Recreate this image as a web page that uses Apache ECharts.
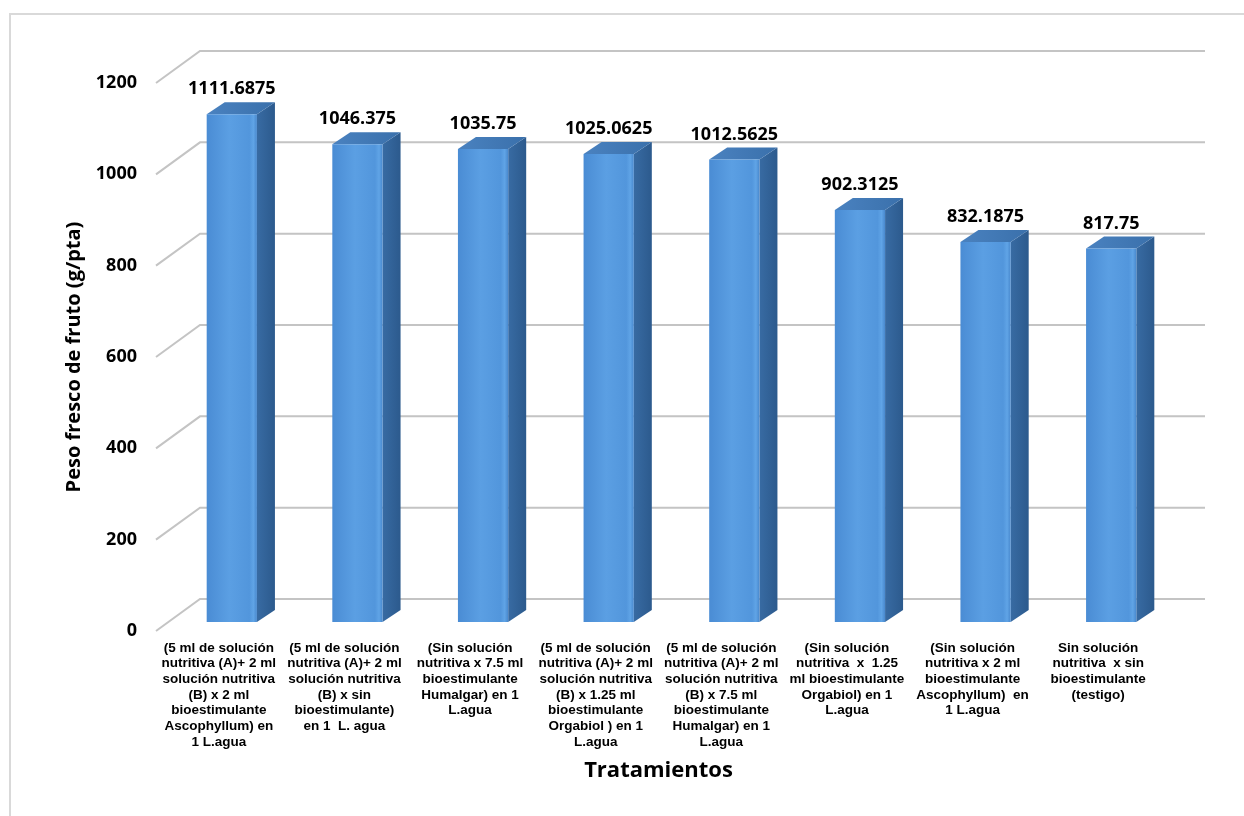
<!DOCTYPE html>
<html>
<head>
<meta charset="utf-8">
<script src="https://cdn.jsdelivr.net/npm/echarts@6/dist/echarts.min.js"></script>
<style>
  html, body { margin: 0; padding: 0; background: #ffffff; }
  #chart { width: 1244px; height: 816px; }
</style>
</head>
<body>
<div id="chart"></div>
<script>
// Treatment names (line breaks as printed under each bar)
const categories = [
  '(5 ml de solución\nnutritiva (A)+ 2 ml\nsolución nutritiva\n(B) x 2 ml\nbioestimulante\nAscophyllum) en\n1 L.agua',
  '(5 ml de solución\nnutritiva (A)+ 2 ml\nsolución nutritiva\n(B) x sin\nbioestimulante)\nen 1  L. agua',
  '(Sin solución\nnutritiva x 7.5 ml\nbioestimulante\nHumalgar) en 1\nL.agua',
  '(5 ml de solución\nnutritiva (A)+ 2 ml\nsolución nutritiva\n(B) x 1.25 ml\nbioestimulante\nOrgabiol ) en 1\nL.agua',
  '(5 ml de solución\nnutritiva (A)+ 2 ml\nsolución nutritiva\n(B) x 7.5 ml\nbioestimulante\nHumalgar) en 1\nL.agua',
  '(Sin solución\nnutritiva  x  1.25\nml bioestimulante\nOrgabiol) en 1\nL.agua',
  '(Sin solución\nnutritiva x 2 ml\nbioestimulante\nAscophyllum)  en\n1 L.agua',
  'Sin solución\nnutritiva  x sin\nbioestimulante\n(testigo)'
];

// Fresh fruit weight per plant (g/pta)
const pesoFresco = [1111.6875, 1046.375, 1035.75, 1025.0625, 1012.5625, 902.3125, 832.1875, 817.75];

// Value-axis ticks
const yTicks = [0, 200, 400, 600, 800, 1000, 1200];

// Pseudo-3D depth: back wall and bar front plane measured from the axis plane
const WALL = [44, -32];
const BAR_FRONT = [13, -9];
const BAR_DEPTH = [18, -12];
const BAR_RATIO = 0.4;

const NUM_FONT = '"Open Sans", Lato, "Liberation Sans", sans-serif';

const chart = echarts.init(document.getElementById('chart'), null, { renderer: 'canvas' });

const gridLineStyle = { stroke: '#c4c4c4', lineWidth: 2, fill: null };

function renderWall(params, api) {
  const v = api.value(1);
  const band = api.size([1, 0])[0];
  const first = api.coord([0, v]);
  const last = api.coord([categories.length - 1, v]);
  const left = first[0] - band / 2;
  const right = last[0] + band / 2;
  const y = first[1];
  return {
    type: 'polyline',
    shape: {
      points: [
        [left, y],
        [left + WALL[0], y + WALL[1]],
        [right + WALL[0], y + WALL[1]]
      ]
    },
    style: gridLineStyle,
    silent: true
  };
}

function renderBar(params, api) {
  const idx = api.value(0);
  const v = api.value(1);
  const band = api.size([1, 0])[0];
  const w = band * BAR_RATIO;
  const base = api.coord([idx, 0]);
  const top = api.coord([idx, v]);
  const x0 = base[0] + BAR_FRONT[0] - w / 2;
  const x1 = x0 + w;
  const yb = base[1] + BAR_FRONT[1];
  const yt = top[1] + BAR_FRONT[1];
  const dx = BAR_DEPTH[0], dy = BAR_DEPTH[1];
  return {
    type: 'group',
    children: [
      {
        type: 'polygon',
        shape: { points: [[x1, yb], [x1 + dx, yb + dy], [x1 + dx, yt + dy], [x1, yt]] },
        style: {
          fill: new echarts.graphic.LinearGradient(0, 0, 1, 0, [
            { offset: 0, color: '#386ba3' },
            { offset: 1, color: '#2c5a8d' }
          ])
        }
      },
      {
        type: 'polygon',
        shape: { points: [[x0, yt], [x1, yt], [x1 + dx, yt + dy], [x0 + dx, yt + dy]] },
        style: {
          fill: new echarts.graphic.LinearGradient(0, 0, 1, 0, [
            { offset: 0, color: '#4a82c0' },
            { offset: 1, color: '#3a70ab' }
          ])
        }
      },
      {
        type: 'rect',
        shape: { x: x0, y: yt, width: w, height: yb - yt },
        style: {
          fill: new echarts.graphic.LinearGradient(0, 0, 1, 0, [
            { offset: 0, color: '#4a8cd4' },
            { offset: 0.45, color: '#5b9fe3' },
            { offset: 0.85, color: '#5296dc' },
            { offset: 0.93, color: '#60a4e6' },
            { offset: 1, color: '#4888cd' }
          ])
        }
      },
      {
        type: 'text',
        style: {
          text: String(v),
          x: x0 + w / 2,
          y: yt - 25,
          align: 'center',
          verticalAlign: 'middle',
          fill: '#000000',
          font: 'bold 18px ' + NUM_FONT
        }
      }
    ]
  };
}

chart.setOption({
  animation: false,
  backgroundColor: '#ffffff',
  graphic: [
    {
      type: 'rect',
      shape: { x: 10, y: 14, width: 1300, height: 900 },
      style: { fill: null, stroke: '#d9d9d9', lineWidth: 2 },
      silent: true,
      z: -10
    }
  ],
  grid: { left: 156, right: 83, top: 83, bottom: 185, containLabel: false },
  xAxis: {
    type: 'category',
    data: categories,
    axisLine: { show: false },
    axisTick: { show: false },
    splitLine: { show: false },
    axisLabel: {
      interval: 0,
      margin: 9,
      color: '#000000',
      fontFamily: '"Liberation Sans", Arial, sans-serif',
      fontWeight: 'bold',
      fontSize: 13.5,
      lineHeight: 15.7,
      align: 'center'
    },
    name: 'Tratamientos',
    nameLocation: 'middle',
    nameGap: 129,
    nameTextStyle: {
      color: '#000000',
      fontFamily: NUM_FONT,
      fontWeight: 'bold',
      fontSize: 22
    }
  },
  yAxis: {
    type: 'value',
    min: 0,
    max: 1200,
    interval: 200,
    axisLine: { show: false },
    axisTick: { show: false },
    splitLine: { show: false },
    axisLabel: {
      margin: 19,
      color: '#000000',
      fontFamily: NUM_FONT,
      fontWeight: 'bold',
      fontSize: 18,
      formatter: v => String(v)
    },
    name: 'Peso fresco de fruto (g/pta)',
    nameLocation: 'middle',
    nameGap: 72,
    nameTextStyle: {
      color: '#000000',
      fontFamily: NUM_FONT,
      fontWeight: 'bold',
      fontSize: 20
    }
  },
  series: [
    {
      name: 'wall',
      type: 'custom',
      clip: false,
      silent: true,
      z: 1,
      renderItem: renderWall,
      data: yTicks.map(t => [0, t]),
      encode: { x: 0, y: 1 }
    },
    {
      name: 'Peso fresco',
      type: 'custom',
      clip: false,
      z: 2,
      renderItem: renderBar,
      data: pesoFresco.map((v, i) => [i, v]),
      encode: { x: 0, y: 1 }
    }
  ]
});
</script>
</body>
</html>
